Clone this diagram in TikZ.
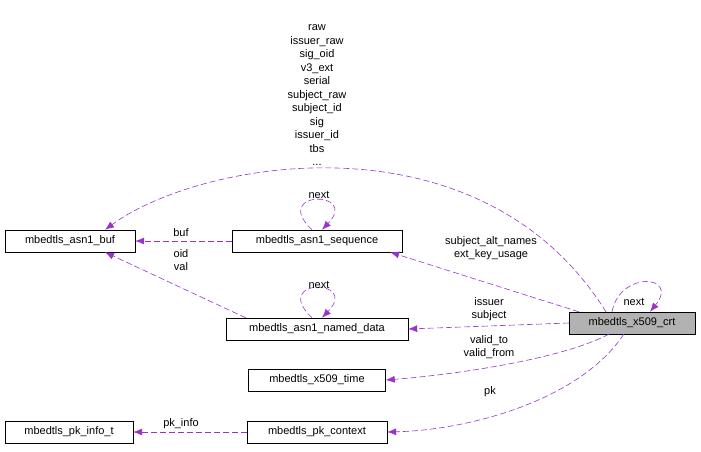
\documentclass[tikz,border=0pt]{standalone}
\usepackage{fontspec}
\setmainfont{Liberation Sans}
\usetikzlibrary{positioning,arrows.meta}
\definecolor{edgepurple}{RGB}{154,50,205}
\tikzset{
  cls/.style = {draw, inner sep = 0pt, minimum height = 22pt, font = \fontsize{11}{12}\selectfont},
  lbl/.style = {font = \fontsize{11}{13.5}\selectfont, inner sep = 1pt, align = center},
  link/.style = {draw = edgepurple, dash pattern = on 6pt off 3pt, semithick, -{Latex[length=9pt,width=7pt]}}
}
\begin{document}
\begin{tikzpicture}[x = 1pt, y = -1pt]
\useasboundingbox (0,0) rectangle (701,451);
% classes
\node[cls, minimum width = 130pt] (buf) at (70,241) {mbedtls\_asn1\_buf};
\node[cls, minimum width = 170pt] (seq) at (317,241) {mbedtls\_asn1\_sequence};
\node[cls, minimum width = 182pt] (named) at (317,329) {mbedtls\_asn1\_named\_data};
\node[cls, minimum width = 126pt, fill = black!30] (crt) at (632,323) {mbedtls\_x509\_crt};
\node[cls, minimum width = 137pt] (time) at (317,380) {mbedtls\_x509\_time};
\node[cls, minimum width = 128pt] (pkinfo) at (69,432) {mbedtls\_pk\_info\_t};
\node[cls, minimum width = 140pt] (pkctx) at (317,432) {mbedtls\_pk\_context};
% crt members
\draw[link] ([xshift=-26pt]crt.north) .. controls (480,110) and (200,160) .. ([xshift=35pt]buf.north);
\node[lbl, anchor = south] (crtlbl) at (317,167) {raw\\issuer\_raw\\sig\_oid\\v3\_ext\\serial\\subject\_raw\\subject\_id\\sig\\issuer\_id\\tbs\\...};
\draw[link] ([xshift=-20pt]crt.north) .. controls (620,270) and (680,275) .. ([xshift=18pt]crt.north);
\node[lbl] (crtnext) at (634,302) {next};
\draw[link] ([xshift=10pt]crt.north west) -- ([xshift=-12pt]seq.south east);
\node[lbl] (altlbl) at (491,248) {subject\_alt\_names\\ext\_key\_usage};
\draw[link] (crt.west) -- (named.east);
\node[lbl] (isslbl) at (489,309) {issuer\\subject};
\draw[link] ([xshift=40pt]crt.south west) .. controls (560,360) and (450,375) .. (time.east);
\node[lbl] (validlbl) at (489,347) {valid\_to\\valid\_from};
\draw[link] ([xshift=55pt]crt.south west) .. controls (580,400) and (470,430) .. (pkctx.east);
\node[lbl] (pklbl) at (490,392) {pk};
% other members
\draw[link] (seq.west) -- (buf.east);
\node[lbl] (buflbl) at (181,233) {buf};
\draw[link] ([xshift=-5pt]seq.north) .. controls (270,190) and (360,190) .. ([xshift=5pt]seq.north);
\node[lbl] (seqnext) at (319,195) {next};
\draw[link] ([xshift=20pt]named.north west) -- ([xshift=35pt]buf.south);
\node[lbl] (oidlbl) at (181,260) {oid\\val};
\draw[link] ([xshift=-5pt]named.north) .. controls (270,278) and (360,278) .. ([xshift=5pt]named.north);
\node[lbl] (namednext) at (319,285) {next};
\draw[link] (pkctx.west) -- (pkinfo.east);
\node[lbl] (pkinfolbl) at (181,424) {pk\_info};
\end{tikzpicture}
\end{document}
